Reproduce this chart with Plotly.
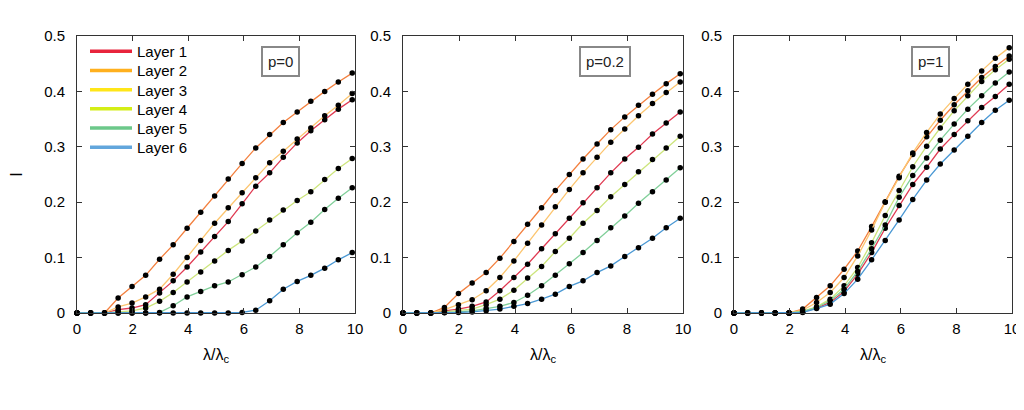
import plotly.graph_objects as go

# ---------------- data ----------------
X = [0, 0.49, 0.99, 1.48, 1.98, 2.47, 2.97, 3.46, 3.96, 4.45, 4.95,
     5.44, 5.94, 6.43, 6.93, 7.42, 7.92, 8.41, 8.91, 9.40, 9.90]

layer_names = ["Layer 1", "Layer 2", "Layer 3", "Layer 4", "Layer 5", "Layer 6"]
panel_labels = ["p=0", "p=0.2", "p=1"]
y_title = "I"

# p = 0
p0_L1 = [0, 0, 0, 0.006, 0.009, 0.015, 0.036, 0.058, 0.083, 0.110, 0.138, 0.165, 0.197, 0.229, 0.253, 0.281, 0.307, 0.329, 0.349, 0.368, 0.385]
p0_L2 = [0, 0, 0, 0.027, 0.048, 0.068, 0.097, 0.123, 0.153, 0.182, 0.211, 0.242, 0.270, 0.298, 0.322, 0.344, 0.363, 0.382, 0.400, 0.417, 0.433]
p0_L3 = [0, 0, 0, 0.011, 0.018, 0.029, 0.043, 0.070, 0.100, 0.131, 0.162, 0.190, 0.217, 0.244, 0.271, 0.292, 0.314, 0.334, 0.356, 0.375, 0.396]
p0_L4 = [0, 0, 0, 0.002, 0.004, 0.009, 0.021, 0.037, 0.056, 0.074, 0.094, 0.113, 0.130, 0.148, 0.168, 0.186, 0.203, 0.219, 0.241, 0.261, 0.279]
p0_L5 = [0, 0, 0, 0, 0, 0, 0.001, 0.013, 0.029, 0.039, 0.049, 0.056, 0.069, 0.083, 0.102, 0.123, 0.145, 0.164, 0.187, 0.207, 0.226]
p0_L6 = [0, 0, 0, 0, 0, 0, 0, 0, 0, 0, 0, 0, 0.001, 0.005, 0.022, 0.043, 0.057, 0.068, 0.081, 0.096, 0.109]

# p = 0.2
p2_L1 = [0, 0, 0, 0.004, 0.007, 0.012, 0.020, 0.040, 0.064, 0.088, 0.116, 0.143, 0.171, 0.199, 0.226, 0.253, 0.278, 0.299, 0.323, 0.343, 0.363]
p2_L2 = [0, 0, 0, 0.010, 0.035, 0.054, 0.073, 0.099, 0.129, 0.160, 0.190, 0.221, 0.250, 0.278, 0.305, 0.331, 0.354, 0.375, 0.395, 0.414, 0.432]
p2_L3 = [0, 0, 0, 0.006, 0.015, 0.024, 0.040, 0.064, 0.094, 0.126, 0.159, 0.192, 0.223, 0.253, 0.281, 0.308, 0.332, 0.356, 0.378, 0.398, 0.417]
p2_L4 = [0, 0, 0, 0.002, 0.004, 0.007, 0.015, 0.025, 0.041, 0.063, 0.084, 0.111, 0.135, 0.162, 0.185, 0.210, 0.232, 0.255, 0.277, 0.298, 0.319]
p2_L5 = [0, 0, 0, 0.001, 0.002, 0.004, 0.008, 0.012, 0.019, 0.032, 0.049, 0.068, 0.089, 0.109, 0.131, 0.154, 0.175, 0.198, 0.219, 0.240, 0.262]
p2_L6 = [0, 0, 0, 0.0005, 0.001, 0.002, 0.004, 0.007, 0.012, 0.017, 0.025, 0.034, 0.048, 0.058, 0.073, 0.085, 0.102, 0.118, 0.135, 0.154, 0.171]

# p = 1
p1_L1 = [0, 0, 0, 0, 0, 0.002, 0.009, 0.019, 0.039, 0.070, 0.109, 0.153, 0.194, 0.232, 0.263, 0.296, 0.322, 0.347, 0.371, 0.391, 0.413]
p1_L2 = [0, 0, 0, 0, 0, 0.007, 0.028, 0.049, 0.079, 0.112, 0.156, 0.201, 0.247, 0.286, 0.318, 0.348, 0.376, 0.401, 0.425, 0.445, 0.464]
p1_L3 = [0, 0, 0, 0, 0, 0.005, 0.019, 0.037, 0.064, 0.103, 0.150, 0.200, 0.244, 0.289, 0.326, 0.359, 0.387, 0.413, 0.437, 0.460, 0.479]
p1_L4 = [0, 0, 0, 0, 0, 0.003, 0.011, 0.025, 0.049, 0.082, 0.127, 0.176, 0.221, 0.264, 0.301, 0.334, 0.365, 0.392, 0.418, 0.439, 0.458]
p1_L5 = [0, 0, 0, 0, 0, 0.003, 0.010, 0.022, 0.043, 0.075, 0.116, 0.159, 0.209, 0.248, 0.280, 0.312, 0.341, 0.368, 0.392, 0.415, 0.435]
p1_L6 = [0, 0, 0, 0, 0, 0.001, 0.008, 0.016, 0.035, 0.061, 0.096, 0.131, 0.168, 0.205, 0.240, 0.269, 0.294, 0.319, 0.344, 0.366, 0.384]

panels = [
    [p0_L1, p0_L2, p0_L3, p0_L4, p0_L5, p0_L6],
    [p2_L1, p2_L2, p2_L3, p2_L4, p2_L5, p2_L6],
    [p1_L1, p1_L2, p1_L3, p1_L4, p1_L5, p1_L6],
]

x_ticks = [0, 2, 4, 6, 8, 10]
y_ticks = [0, 0.1, 0.2, 0.3, 0.4, 0.5]
y_ticktext = ["0", "0.1", "0.2", "0.3", "0.4", "0.5"]

# ---------------- styles ----------------
legend_colors = ["#e8243c", "#ffb01e", "#ffe619", "#d4ee16", "#6cc88a", "#62a6dc"]
line_colors = ["#e03a52", "#f3803f", "#fcc56f", "#cde57c", "#80cf99", "#4a98d4"]
FONT = "Liberation Sans, Arial, Helvetica, sans-serif"

# the page places the figure 8 px in from the window's top-left corner
OFF = 8
W, H = 1024 - OFF, 410 - OFF


def fx(px):
    return (px - OFF) / W


def fy(py):
    return 1 - (py - OFF) / H


x_domains = [[fx(77), fx(355)], [fx(403), fx(683)], [fx(734), fx(1012)]]
y_domain = [fy(313), fy(36)]
legend_rows = [50, 69.2, 88.4, 107.6, 126.8, 146]

fig = go.Figure()

layout = dict(
    width=W, height=H, autosize=False,
    margin=dict(l=0, r=0, t=0, b=0, pad=0, autoexpand=False),
    paper_bgcolor="white", plot_bgcolor="white",
    font=dict(family=FONT, color="black"),
    showlegend=True,
)

# legend entries: one small legend per layer so the row spacing matches
for i, (name, col) in enumerate(zip(layer_names, legend_colors)):
    lkey = "legend" if i == 0 else f"legend{i + 1}"
    fig.add_trace(go.Scatter(x=[None], y=[None], mode="lines", name=name,
                             line=dict(color=col, width=3.5), showlegend=True,
                             legend=lkey, xaxis="x", yaxis="y"))
    layout[lkey] = dict(x=fx(85), y=fy(legend_rows[i] - 15), xanchor="left", yanchor="top",
                        bgcolor="rgba(0,0,0,0)", font=dict(family=FONT, size=15),
                        tracegroupgap=0, itemwidth=42)

for pi, series in enumerate(panels):
    xa = "x" if pi == 0 else f"x{pi + 1}"
    ya = "y" if pi == 0 else f"y{pi + 1}"
    for li, ys in enumerate(series):
        fig.add_trace(go.Scatter(
            x=X, y=ys, mode="lines+markers", showlegend=False,
            line=dict(color=line_colors[li], width=1.3),
            marker=dict(color="black", size=5.5),
            cliponaxis=False, xaxis=xa, yaxis=ya, hoverinfo="skip"))

axis_common = dict(showline=True, linecolor="#333333", linewidth=1, mirror="ticks",
                   ticks="inside", ticklen=5, tickcolor="#333333", showgrid=False,
                   zeroline=False, automargin=False,
                   tickfont=dict(family=FONT, size=15, color="black"))

annotations = []
for pi in range(3):
    xk = "xaxis" if pi == 0 else f"xaxis{pi + 1}"
    yk = "yaxis" if pi == 0 else f"yaxis{pi + 1}"
    anchor_y = "y" if pi == 0 else f"y{pi + 1}"
    anchor_x = "x" if pi == 0 else f"x{pi + 1}"
    layout[xk] = dict(domain=x_domains[pi], range=[0, 10], tickvals=x_ticks,
                      anchor=anchor_y, ticklabelstandoff=2, **axis_common)
    layout[yk] = dict(domain=y_domain, range=[0, 0.5], tickvals=y_ticks,
                      ticktext=y_ticktext, anchor=anchor_x, ticklabelstandoff=8,
                      **axis_common)
    # x-axis title
    annotations.append(dict(text="λ/λ<sub>c</sub>", xref="paper", yref="paper",
                            x=(x_domains[pi][0] + x_domains[pi][1]) / 2,
                            y=fy(355), xanchor="center", yanchor="middle",
                            showarrow=False, font=dict(family=FONT, size=16)))

# y-axis title on the first panel (drawn rotated by the axis itself)
layout["yaxis"]["title"] = dict(text=y_title, standoff=20,
                                font=dict(family=FONT, size=16, color="black"))

# panel labels in grey boxes
label_pos = [(280, 62), (605, 61), (930, 61)]
for (px, py), lab in zip(label_pos, panel_labels):
    annotations.append(dict(text=lab, xref="paper", yref="paper", x=fx(px), y=fy(py),
                            xanchor="center", yanchor="middle", showarrow=False,
                            font=dict(family=FONT, size=15, color="#222222"),
                            bordercolor="#888888", borderwidth=2, borderpad=5,
                            bgcolor="white"))

layout["annotations"] = annotations
fig.update_layout(**layout)
fig.write_html("out.html")
